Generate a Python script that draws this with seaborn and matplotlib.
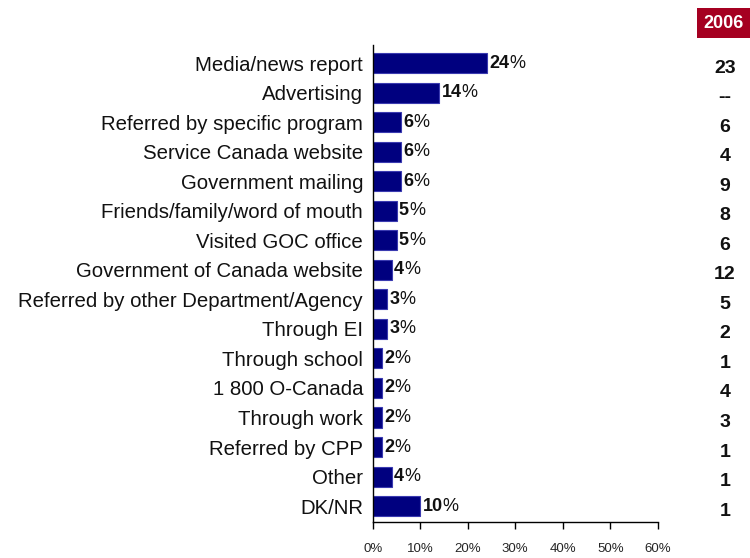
import matplotlib
matplotlib.use("Agg")
import matplotlib.pyplot as plt
import seaborn as sns
import pandas as pd
from matplotlib.patches import Rectangle

sources = [
    "Media/news report", "Advertising", "Referred by specific program",
    "Service Canada website", "Government mailing", "Friends/family/word of mouth",
    "Visited GOC office", "Government of Canada website",
    "Referred by other Department/Agency", "Through EI", "Through school",
    "1 800 O-Canada", "Through work", "Referred by CPP", "Other", "DK/NR",
]
pct_current = [24, 14, 6, 6, 6, 5, 5, 4, 3, 3, 2, 2, 2, 2, 4, 10]
pct_2006 = ["23", "--", "6", "4", "9", "8", "6", "12", "5", "2", "1", "4", "3", "1", "1", "1"]
x_ticks = [0, 10, 20, 30, 40, 50, 60]

df = pd.DataFrame({"source": sources, "pct": pct_current})

sns.set_style("white")
plt.rcParams["font.family"] = ["Liberation Sans", "DejaVu Sans"]

fig = plt.figure(figsize=(7.5, 5.58), dpi=100)
ax = fig.add_axes([0.497, 0.0645, 0.38, 0.8545])

sns.barplot(data=df, x="pct", y="source", orient="h", color="#00007f",
            width=0.68, edgecolor="#3a3ab0", linewidth=0.8, saturation=1, ax=ax)

ax.set_xlim(0, 60)
ax.set_ylim(15.54, -0.61)
ax.set_xticks(x_ticks)
ax.set_xticklabels([f"{v}%" for v in x_ticks], fontsize=9.5)
ax.set_xlabel("")
ax.set_ylabel("")
ax.tick_params(axis="x", bottom=True, direction="out", length=5, width=1,
               color="black", pad=10)
ax.tick_params(axis="y", left=False, length=0, pad=7, labelsize=14.7,
               labelcolor="#111111")
for s in ["top", "right"]:
    ax.spines[s].set_visible(False)
for s in ["left", "bottom"]:
    ax.spines[s].set_color("black")
    ax.spines[s].set_linewidth(1)

# value labels: bold number followed by a regular percent sign
for i, v in enumerate(pct_current):
    t = ax.text(v + 0.5, i, f"{v}", fontsize=13, fontweight="bold",
                va="center", ha="left", color="#111111")
    ax.annotate("%", xy=(1, 0.5), xycoords=t, va="center", ha="left",
                fontsize=13, color="#111111")

# comparison column for 2006
fig.patches.append(Rectangle((697 / 750, 1 - 38 / 558), 53 / 750, 30 / 558,
                             transform=fig.transFigure, facecolor="#a50021",
                             edgecolor="none"))
fig.text(723.5 / 750, 1 - 23 / 558, "2006", color="white", fontsize=13,
         fontweight="bold", ha="center", va="center")
for i, lab in enumerate(pct_2006):
    y_disp = ax.transData.transform((0, i))[1]
    y_fig = fig.transFigure.inverted().transform((0, y_disp))[1]
    fig.text(725 / 750, y_fig - 0.009, lab, fontsize=14, fontweight="bold",
             ha="center", va="center", color="#111111")

fig.savefig("out.png", dpi=100)
